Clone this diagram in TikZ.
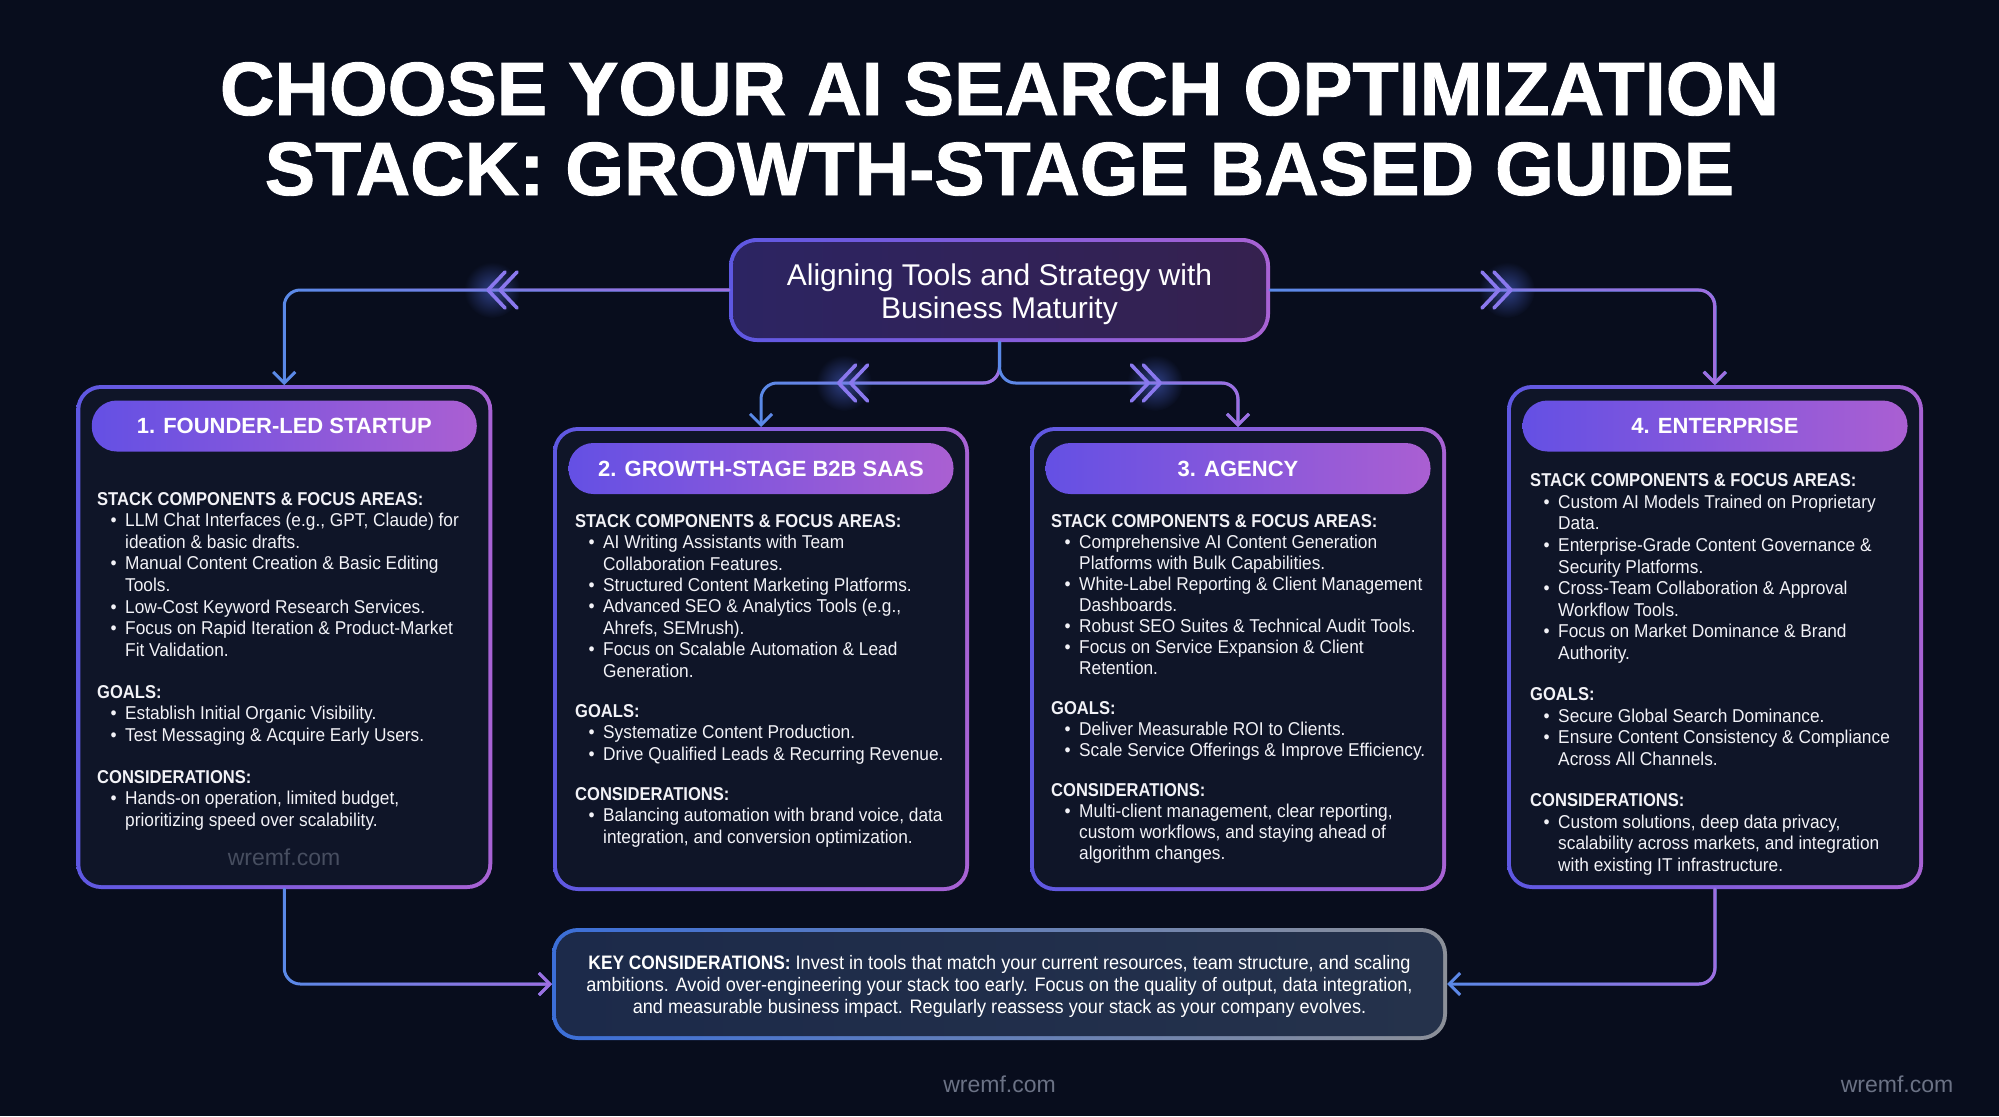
\documentclass[tikz,border=0pt]{standalone}
\usepackage{fontspec}
\setmainfont{Liberation Sans}[FakeStretch=0.93,BoldFeatures={FakeStretch=0.89}]
\newfontfamily\titlefont{Liberation Sans}[BoldFeatures={FakeBold=1.2}]
\newfontfamily\plainfont{Liberation Sans}
\newfontfamily\keyfont{Liberation Sans}[FakeStretch=0.93,BoldFeatures={FakeStretch=0.89}]
\usetikzlibrary{arrows.meta,decorations.markings,fadings,calc}
\pgfdeclarelayer{back}\pgfdeclarelayer{mid}\pgfsetlayers{back,mid,main}

\definecolor{bgC}{HTML}{080D1D}
\definecolor{cardC}{HTML}{0F1528}
\definecolor{ringA}{HTML}{5E58E2}
\definecolor{ringB}{HTML}{A862D4}
\definecolor{pillA}{HTML}{6450E4}
\definecolor{pillB}{HTML}{AA5FD2}
\definecolor{hubA}{HTML}{2C2462}
\definecolor{hubB}{HTML}{35214F}
\definecolor{keyA}{HTML}{1C2A4A}
\definecolor{keyM}{HTML}{27385A}
\definecolor{keyB}{HTML}{25324B}
\definecolor{keyRingA}{HTML}{3C6FD8}
\definecolor{keyRingB}{HTML}{8C9099}
\definecolor{cBlue}{HTML}{5A8AE8}
\definecolor{cPurp}{HTML}{A06EE0}
\definecolor{chevC}{HTML}{8A78EE}
\definecolor{glowC}{HTML}{2E3F86}
\definecolor{txtC}{HTML}{F2F2F7}
\definecolor{wmIn}{HTML}{474E60}
\definecolor{wmOut}{HTML}{6B7285}

\tikzfading[name=fadeinright, left color=transparent!100, right color=transparent!0]

\newlength\cgap
\newcommand\shead[1]{\par{\bfseries #1}\par}
\newcommand\sitem[1]{\par\hangindent=28pt\hangafter=1\hspace*{13.5pt}\makebox[14.5pt][l]{\textbullet}#1\par}
\newcommand\sgap{\par\vspace{\cgap}}
\newcommand\cardtext[3]{\parbox[t]{400pt}{\raggedright\fontsize{18.6}{#1}\selectfont\setlength\cgap{#2}#3}}
\newcommand\chevmark{\draw[arrows=-, sharp corners, line width=3.6pt, draw=chevC, line cap=round, line join=round] (-17pt,18pt) -- (0pt,0pt) -- (-17pt,-18pt);}

\tikzset{
  cardshape/.style={minimum width=408pt, minimum height=496pt, outer sep=4pt, inner sep=0pt},
  pill/.style={minimum width=385pt, minimum height=51pt, rounded corners=25pt, left color=pillA, right color=pillB, text=white, inner sep=0pt, font={\plainfont\bfseries\fontsize{22}{26}\selectfont}},
  conn/.style={line width=3pt, rounded corners=16pt, line cap=round, draw=cBlue, postaction={draw=cPurp, path fading=fadeinright}},
  tipend/.style={-{Straight Barb[length=11pt,width=22pt]}},
  chevs/.style 2 args={postaction={decorate, decoration={markings, mark=at position #1 with {\chevmark}, mark=at position #2 with {\chevmark}}}},
  body/.style={anchor=base west, inner sep=0pt, text=txtC},
  wm/.style={anchor=base, inner sep=0pt, font={\plainfont\fontsize{23}{26}\selectfont}}
}

\begin{document}
\begin{tikzpicture}[x=1pt,y=-1pt]
\useasboundingbox (0,0) rectangle (1999,1116);
\begin{pgfonlayer}{back}
  \fill[bgC] (0,0) rectangle (1999,1116);
\end{pgfonlayer}

% title
\node[anchor=base, inner sep=0pt, text=white, font={\titlefont\bfseries\fontsize{75.5}{80}\selectfont}] (title1) at (999.5,115) {CHOOSE YOUR AI SEARCH OPTIMIZATION};
\node[anchor=base, inner sep=0pt, text=white, font={\titlefont\bfseries\fontsize{75.5}{80}\selectfont}] (title2) at (999.5,195) {STACK: GROWTH-STAGE BASED GUIDE};

% hub
\node[minimum width=533pt, minimum height=96pt, outer sep=4pt, inner sep=0pt] (hub) at (999.5,290) {};
\node[inner sep=0pt, align=center, text=white, font={\plainfont\fontsize{30}{33}\selectfont}] (hubtxt) at (999.5,294) {Aligning Tools and Strategy with\\Business Maturity};

% cards
\node[cardshape] (c1) at (284.25,637) {};
\node[cardshape, minimum height=456pt] (c2) at (761,659) {};
\node[cardshape, minimum height=456pt] (c3) at (1238,659) {};
\node[cardshape] (c4) at (1715,637) {};

% key considerations
\node[minimum width=887pt, minimum height=104pt, outer sep=4pt, inner sep=0pt] (key) at (999.5,984) {};
\node[inner sep=0pt, align=center, text=white, font={\keyfont\fontsize{19.5}{22.2}\selectfont}] (keytxt) at (999.5,986.5)
 {{\bfseries KEY CONSIDERATIONS:} Invest in tools that match your current resources, team structure, and scaling\\ambitions. Avoid over-engineering your stack too early. Focus on the quality of output, data integration,\\and measurable business impact. Regularly reassess your stack as your company evolves.};

\begin{pgfonlayer}{mid}
  % hub frame
  \shade[left color=ringA, right color=ringB, rounded corners=28pt] (hub.south west) rectangle (hub.north east);
  \shade[left color=hubA, right color=hubB, rounded corners=24pt] ([xshift=4pt,yshift=4pt]hub.south west) rectangle ([xshift=-4pt,yshift=-4pt]hub.north east);
  % card frames
  \foreach \c in {c1,c2,c3,c4}{
    \shade[left color=ringA, right color=ringB, rounded corners=25pt] (\c.south west) rectangle (\c.north east);
    \fill[cardC, rounded corners=21pt] ([xshift=4pt,yshift=4pt]\c.south west) rectangle ([xshift=-4pt,yshift=-4pt]\c.north east);
  }
  % key frame
  \shade[left color=keyRingA, right color=keyRingB, rounded corners=26pt] (key.south west) rectangle (key.north east);
  \shade[left color=keyA, middle color=keyM, right color=keyB, rounded corners=22pt] ([xshift=4pt,yshift=4pt]key.south west) rectangle ([xshift=-4pt,yshift=-4pt]key.north east);
  % glows
  \foreach \p in {(492,290),(1507,290),(844,383),(1155,383)}{
    \shade[inner color=glowC, outer color=bgC] \p circle [radius=28pt];
  }
\end{pgfonlayer}

% pills
\node[pill] (p1) at (284.25,426) {1. FOUNDER-LED STARTUP};
\node[pill] (p2) at (761,468.5) {2. GROWTH-STAGE B2B SAAS};
\node[pill] (p3) at (1238,468.5) {3. AGENCY};
\node[pill] (p4) at (1715,426) {4. ENTERPRISE};

% card texts
\node[body] (t1) at (97,505) {\cardtext{21.65pt}{20pt}{%
\shead{STACK COMPONENTS \& FOCUS AREAS:}
\sitem{LLM Chat Interfaces (e.g., GPT, Claude) for\newline ideation \& basic drafts.}
\sitem{Manual Content Creation \& Basic Editing\newline Tools.}
\sitem{Low-Cost Keyword Research Services.}
\sitem{Focus on Rapid Iteration \& Product-Market\newline Fit Validation.}
\sgap
\shead{GOALS:}
\sitem{Establish Initial Organic Visibility.}
\sitem{Test Messaging \& Acquire Early Users.}
\sgap
\shead{CONSIDERATIONS:}
\sitem{Hands-on operation, limited budget,\newline prioritizing speed over scalability.}}};

\node[body] (t2) at (575,527.3) {\cardtext{21.4pt}{18.8pt}{%
\shead{STACK COMPONENTS \& FOCUS AREAS:}
\sitem{AI Writing Assistants with Team\newline Collaboration Features.}
\sitem{Structured Content Marketing Platforms.}
\sitem{Advanced SEO \& Analytics Tools (e.g.,\newline Ahrefs, SEMrush).}
\sitem{Focus on Scalable Automation \& Lead\newline Generation.}
\sgap
\shead{GOALS:}
\sitem{Systematize Content Production.}
\sitem{Drive Qualified Leads \& Recurring Revenue.}
\sgap
\shead{CONSIDERATIONS:}
\sitem{Balancing automation with brand voice, data\newline integration, and conversion optimization.}}};

\node[body] (t3) at (1051,527.3) {\cardtext{21.0pt}{19pt}{%
\shead{STACK COMPONENTS \& FOCUS AREAS:}
\sitem{Comprehensive AI Content Generation\newline Platforms with Bulk Capabilities.}
\sitem{White-Label Reporting \& Client Management\newline Dashboards.}
\sitem{Robust SEO Suites \& Technical Audit Tools.}
\sitem{Focus on Service Expansion \& Client\newline Retention.}
\sgap
\shead{GOALS:}
\sitem{Deliver Measurable ROI to Clients.}
\sitem{Scale Service Offerings \& Improve Efficiency.}
\sgap
\shead{CONSIDERATIONS:}
\sitem{Multi-client management, clear reporting,\newline custom workflows, and staying ahead of\newline algorithm changes.}}};

\node[body] (t4) at (1530,486.7) {\cardtext{21.6pt}{19.5pt}{%
\shead{STACK COMPONENTS \& FOCUS AREAS:}
\sitem{Custom AI Models Trained on Proprietary\newline Data.}
\sitem{Enterprise-Grade Content Governance \&\newline Security Platforms.}
\sitem{Cross-Team Collaboration \& Approval\newline Workflow Tools.}
\sitem{Focus on Market Dominance \& Brand\newline Authority.}
\sgap
\shead{GOALS:}
\sitem{Secure Global Search Dominance.}
\sitem{Ensure Content Consistency \& Compliance\newline Across All Channels.}
\sgap
\shead{CONSIDERATIONS:}
\sitem{Custom solutions, deep data privacy,\newline scalability across markets, and integration\newline with existing IT infrastructure.}}};

% watermarks
\node[wm, text=wmIn] (wm1) at (284,865) {wremf.com};
\node[wm, text=wmOut] (wm2) at (999.5,1092) {wremf.com};
\node[wm, text=wmOut] (wm3) at (1897,1092) {wremf.com};

% connectors
\coordinate (split) at (999.5,383);
\draw[conn, tipend] (hub.west) -| (c1.north);
\draw[conn, tipend] (hub.east) -| (c4.north);
\draw[conn, tipend] (hub.south) -- (split) -| (c2.north);
\draw[conn, tipend] (hub.south) -- (split) -| (c3.north);
\path[chevs={229pt}{241pt}] (hub.west) -| (c1.north);
\path[chevs={229pt}{241pt}] (hub.east) -| (c4.north);
\path[rounded corners=16pt, chevs={183pt}{195pt}] (hub.south) -- (split) -| (c2.north);
\path[rounded corners=16pt, chevs={183pt}{195pt}] (hub.south) -- (split) -| (c3.north);
\draw[conn, tipend] (c1.south) |- (key.west);
\draw[conn, tipend] (c4.south) |- (key.east);
\end{tikzpicture}
\end{document}
